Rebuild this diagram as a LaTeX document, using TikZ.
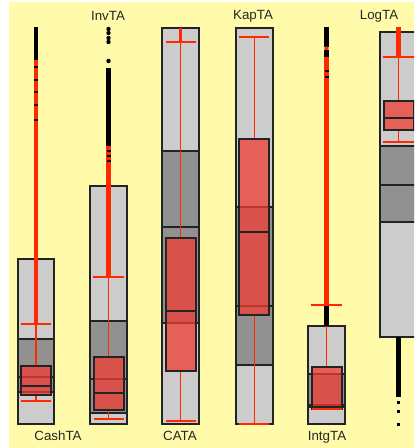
\documentclass[tikz,border=0pt]{standalone}
\usepackage{fontspec}
\setmainfont{Liberation Sans}
\definecolor{bgyellow}{RGB}{255,251,170}
\definecolor{lgrey}{RGB}{204,204,204}
\definecolor{dgrey}{RGB}{145,145,145}
\definecolor{edgec}{RGB}{35,35,35}
\definecolor{wred}{RGB}{255,40,0}
\definecolor{bred}{RGB}{240,60,52}
\tikzset{
  greybox/.style={fill=lgrey, draw=edgec, line width=1.1pt},
  iqrbox/.style={fill=dgrey, draw=edgec, line width=1.1pt},
  medline/.style={draw=edgec, line width=1.1pt},
  redbox/.style={fill=bred, fill opacity=0.75, draw=edgec, line width=1.1pt},
  whisk/.style={draw=wred, line width=1.1pt},
  capline/.style={draw=wred, line width=2.2pt},
  outred/.style={draw=wred, line width=3.2pt},
  outblack/.style={draw=black, line width=3.2pt},
  blackdot/.style={fill=black, draw=none},
  lbl/.style={font=\fontsize{10}{12}\selectfont, text=black!85, inner sep=0pt},
}
\begin{document}
\begin{tikzpicture}[x=0.75pt,y=-0.75pt]
\useasboundingbox (0,0) rectangle (414,448);
\fill[white] (0,0) rectangle (414,448);
\fill[bgyellow] (9,2) rectangle (414,448);
\begin{scope}
\clip (0,0) rectangle (414,448);
% ---------- CashTA ----------
\draw[greybox] (18,259) rectangle (54,424);
\draw[iqrbox] (18,339) rectangle (54,392);
\draw[medline] (18,377) -- (54,377);
\draw[outblack] (36,27) -- (36,60);
\draw[outred] (36,60) -- (36,324);
\foreach \yy in {67,80,92,105,120} \draw[draw=black, line width=1.2pt] (34,\yy) -- (38,\yy);
\draw[whisk] (36,324) -- (36,366);
\draw[whisk] (36,395) -- (36,401);
\draw[redbox] (21,366) rectangle (51,395);
\draw[medline] (21,386) -- (51,386);
\draw[capline] (21,324) -- (51,324);
\draw[capline] (21,401) -- (51,401);
% ---------- InvTA ----------
\draw[greybox] (90,186) rectangle (127,424);
\draw[iqrbox] (90,321) rectangle (127,413);
\draw[medline] (90,379) -- (127,379);
\foreach \yy in {29,33,38,42,61} \fill[blackdot] (108.5,\yy) circle (2.2);
\draw[outblack] (108.5,68) -- (108.5,146);
\draw[outred] (108.5,146) -- (108.5,277);
\foreach \yy in {151,156,161} \draw[draw=black, line width=1.2pt] (106.5,\yy) -- (110.5,\yy);
\draw[whisk] (108.5,277) -- (108.5,357);
\draw[whisk] (108.5,410) -- (108.5,419);
\draw[redbox] (94,357) rectangle (124,410);
\draw[medline] (94,393) -- (124,393);
\draw[capline] (93,277) -- (124,277);
\draw[capline] (94,419) -- (124,419);
% ---------- CATA ----------
\draw[greybox] (162,28) rectangle (199,424);
\draw[iqrbox] (162,151) rectangle (199,323);
\draw[medline] (162,227) -- (199,227);
\draw[draw=wred, line width=2.4pt] (180.5,28) -- (180.5,42);
\draw[whisk] (180.5,42) -- (180.5,238);
\draw[whisk] (180.5,371) -- (180.5,421);
\draw[redbox] (166,238) rectangle (196,371);
\draw[medline] (166,311) -- (196,311);
\draw[capline] (166,42) -- (196,42);
\draw[capline] (166,421) -- (196,421);
% ---------- KapTA ----------
\draw[greybox] (236,28) rectangle (273,424);
\draw[iqrbox] (236,207) rectangle (273,365);
\draw[medline] (236,306) -- (273,306);
\draw[whisk] (254.5,37) -- (254.5,139);
\draw[whisk] (254.5,315) -- (254.5,424);
\draw[redbox] (239,139) rectangle (269,315);
\draw[medline] (239,232) -- (269,232);
\draw[capline] (239,37) -- (269,37);
\draw[capline] (239,424) -- (269,424);
% ---------- IntgTA ----------
\draw[greybox] (308,326) rectangle (345,424);
\draw[iqrbox] (308,374) rectangle (345,407);
\draw[medline] (308,405) -- (345,405);
\draw[outblack] (326.5,27) -- (326.5,47);
\fill[wred] (326.5,48.5) circle (2.2);
\draw[outblack] (326.5,50) -- (326.5,57);
\draw[outred] (326.5,57) -- (326.5,305);
\foreach \yy in {71,77} \draw[draw=black, line width=1pt] (324.5,\yy) -- (328.5,\yy);
\draw[outblack] (326.5,305) -- (326.5,326);
\draw[whisk] (326.5,326) -- (326.5,367);
\draw[redbox] (312,367) rectangle (342,409);
\draw[medline] (312,407) -- (342,407);
\draw[capline] (311,305) -- (342,305);
\draw[capline] (312,409) -- (342,409);
% ---------- LogTA ----------
\draw[greybox] (380,32) rectangle (417,337);
\draw[iqrbox] (380,146) rectangle (417,222);
\draw[medline] (380,185) -- (417,185);
\draw[outred] (398.5,27) -- (398.5,57);
\draw[whisk] (398.5,57) -- (398.5,101);
\draw[whisk] (398.5,130) -- (398.5,142);
\draw[redbox] (384,101) rectangle (414,130);
\draw[medline] (384,118) -- (414,118);
\draw[capline] (383,57) -- (414,57);
\draw[capline] (383,142) -- (414,142);
\draw[outblack] (398.5,337) -- (398.5,397);
\foreach \yy in {402,411,424} \fill[blackdot] (397,\yy-1.5) rectangle (400,\yy+1.5);
\end{scope}
% ---------- labels ----------
\node[lbl] (lInvTA) at (108,16) {InvTA};
\node[lbl] (lKapTA) at (253,16) {KapTA};
\node[lbl] (lLogTA) at (379,16) {LogTA};
\node[lbl] (lCashTA) at (58,436) {CashTA};
\node[lbl] (lCATA) at (180,436) {CATA};
\node[lbl] (lIntgTA) at (327,437) {IntgTA};
\end{tikzpicture}
\end{document}
